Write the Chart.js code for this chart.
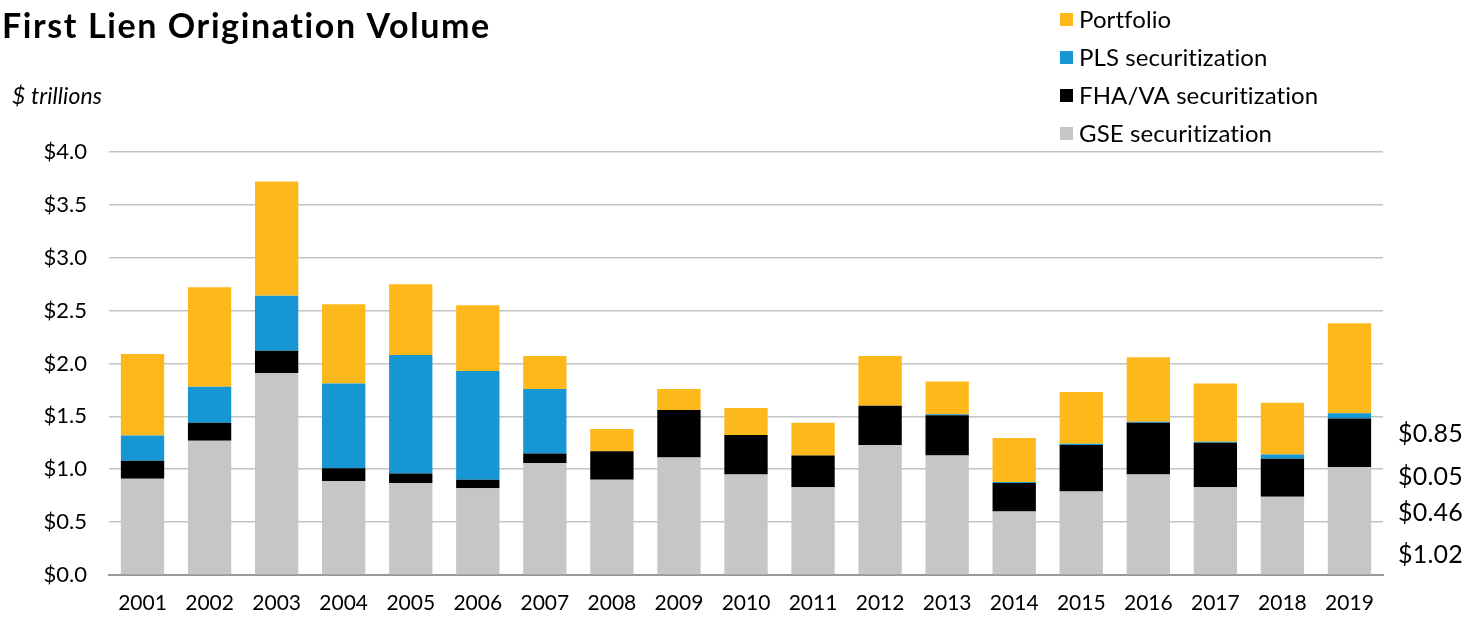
<!DOCTYPE html>
<html>
<head>
<meta charset="utf-8">
<script src="https://cdn.jsdelivr.net/npm/chart.js@4"></script>
<style>
html,body{margin:0;padding:0;background:#fff;}
#wrap{width:1480px;height:617px;position:relative;}
canvas{display:block;}
</style>
</head>
<body>
<div id="wrap"><canvas id="c" width="1480" height="617"></canvas></div>
<script>
const years = ['2001','2002','2003','2004','2005','2006','2007','2008','2009','2010','2011','2012','2013','2014','2015','2016','2017','2018','2019'];
const gseSec   = [0.91,1.27,1.91,0.89,0.87,0.82,1.06,0.90,1.11,0.95,0.83,1.23,1.13,0.60,0.79,0.95,0.83,0.74,1.02];
const fhaVaSec = [0.17,0.17,0.21,0.12,0.09,0.08,0.09,0.27,0.45,0.375,0.30,0.37,0.38,0.27,0.44,0.49,0.42,0.36,0.46];
const plsSec   = [0.24,0.34,0.52,0.80,1.12,1.03,0.61,0.00,0.00,0.00,0.00,0.00,0.01,0.01,0.01,0.01,0.01,0.04,0.05];
const portfolio= [0.77,0.94,1.08,0.75,0.67,0.62,0.31,0.21,0.20,0.255,0.31,0.47,0.31,0.415,0.49,0.61,0.55,0.49,0.85];
const yTicks = [0,0.5,1,1.5,2,2.5,3,3.5,4];
const titleText = 'First Lien Origination Volume';
const unitText = '$ trillions';

const FONT = 'Lato';
const COLORS = {gse:'#c6c6c6', fha:'#000000', pls:'#1696d2', port:'#fdb81c'};

const datasets = [
  {label:'GSE securitization', data:gseSec, backgroundColor:COLORS.gse},
  {label:'FHA/VA securitization', data:fhaVaSec, backgroundColor:COLORS.fha},
  {label:'PLS securitization', data:plsSec, backgroundColor:COLORS.pls},
  {label:'Portfolio', data:portfolio, backgroundColor:COLORS.port}
].map(d => Object.assign(d, {barPercentage:0.646, categoryPercentage:1.0, borderWidth:0}));

const decor = {
  id:'decor',
  afterDraw(chart){
    const ctx = chart.ctx;
    const area = chart.chartArea;
    ctx.save();
    ctx.fillStyle = '#000';
    ctx.textBaseline = 'alphabetic';
    ctx.textAlign = 'left';
    // title
    ctx.font = `bold 34px ${FONT}`;
    ctx.letterSpacing = '1.6px';
    ctx.fillText(titleText, 2, 38);
    // unit
    ctx.font = `italic 23px ${FONT}`;
    ctx.letterSpacing = '0.1px';
    ctx.fillText(unitText, 12, 104);
    // legend (reverse stacking order)
    ctx.font = `24px ${FONT}`;
    ctx.letterSpacing = '0.1px';
    ctx.textBaseline = 'middle';
    const ds = chart.data.datasets.slice().reverse();
    ds.forEach((d,i)=>{
      const cy = 19 + i*38;
      ctx.fillStyle = d.backgroundColor;
      ctx.fillRect(1060, cy-6, 13, 13);
      ctx.fillStyle = '#000';
      ctx.fillText(d.label, 1079, cy+1);
    });
    // right-side annotations: last-year values, top segment first
    const last = chart.data.labels.length - 1;
    const offs = [141, 98, 62, 20];
    ctx.font = `25px ${FONT}`;
    ctx.letterSpacing = '0.2px';
    ds.forEach((d,i)=>{
      const v = d.data[last];
      ctx.fillText('$' + v.toFixed(2), 1398, area.bottom - offs[i]);
    });
    ctx.restore();
  }
};

new Chart(document.getElementById('c'), {
  type:'bar',
  data:{labels:years, datasets},
  plugins:[decor],
  options:{
    responsive:false,
    animation:false,
    devicePixelRatio:1,
    layout:{padding:{top:152, right:97, left:0, bottom:0}},
    plugins:{legend:{display:false}, tooltip:{enabled:false}, title:{display:false}},
    scales:{
      x:{
        stacked:true,
        grid:{display:false, drawTicks:false},
        border:{display:true, color:'#999999', width:2},
        ticks:{color:'#000', font:{family:FONT, size:21}, padding:16, maxRotation:0, autoSkip:false},
        afterFit(s){ s.height = 42; }
      },
      y:{
        stacked:true,
        min:0, max:4,
        afterBuildTicks(s){ s.ticks = yTicks.map(v=>({value:v})); },
        grid:{color:(c)=> c.tick && c.tick.value === 0 ? 'rgba(0,0,0,0)' : '#c4c4c4', lineWidth:1.6, drawTicks:false},
        border:{display:false},
        ticks:{color:'#000', font:{family:FONT, size:22}, padding:22, callback:(v)=>'$'+Number(v).toFixed(1)},
        afterFit(s){ s.width = 109; }
      }
    }
  }
});
</script>
</body>
</html>
